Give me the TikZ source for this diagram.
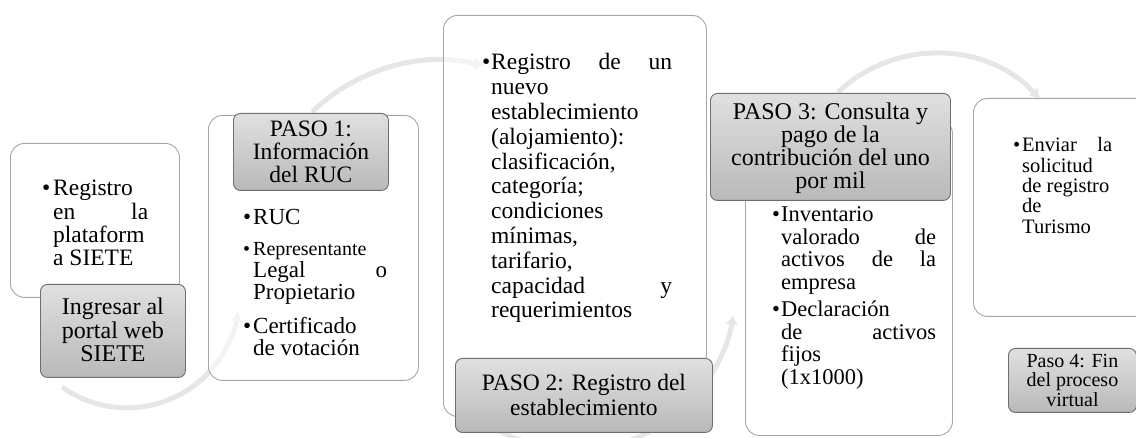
\documentclass[tikz,border=0pt]{standalone}
\usepackage{fontspec}
\setmainfont{Liberation Serif}
\usetikzlibrary{arrows.meta}
\definecolor{arcgray}{HTML}{E6E6E6}
\definecolor{bodyline}{HTML}{A6A6A6}
\definecolor{headline}{HTML}{6E6E6E}
\definecolor{headtop}{HTML}{E0E0E0}
\definecolor{headbot}{HTML}{B9B9B9}
\newcommand{\fsz}[2]{\fontsize{#1}{#2}\selectfont}
\newcommand{\bul}[1]{\makebox[#1][l]{\textbullet}}
\begin{document}
\begin{tikzpicture}[x=1pt,y=-1pt,
  flowarc/.style={draw=arcgray, line width=5pt, -{Latex[length=10pt,width=13pt]}},
  bodybox/.style={draw=bodyline, line width=0.9pt, rounded corners=14pt, fill=white, fill opacity=0.55, anchor=north west, inner sep=0pt},
  headbox/.style={draw=headline, line width=0.9pt, rounded corners=7pt, top color=headtop, bottom color=headbot, anchor=north west, inner sep=0pt},
  headtext/.style={align=center, inner sep=0pt, text=black},
  item/.style={anchor=base west, inner sep=0pt}
]
\useasboundingbox (0,0) rectangle (1136,438);
\clip (0,0) rectangle (1136,438);
% arcs
\coordinate (aA) at (62,387);
\coordinate (aB) at (312,112);
\coordinate (aC) at (462,403);
\coordinate (aD) at (838,92);
\draw[flowarc] (aA) arc[start angle=125.5, end angle=8, radius=112];
\draw[flowarc] (aB) arc[start angle=-134, end angle=-76, radius=184];
\draw[flowarc] (aC) arc[start angle=135, end angle=9, radius=160];
\draw[flowarc] (aD) arc[start angle=-133, end angle=-43, radius=143];
% bodies
\node[bodybox, minimum width=169pt, minimum height=154pt] (b0) at (10,143) {};
\node[bodybox, minimum width=210pt, minimum height=265pt] (b1) at (208,115) {};
\node[bodybox, minimum width=263pt, minimum height=401pt] (b2) at (443,15) {};
\node[bodybox, minimum width=207pt, minimum height=316pt] (b3) at (745,119) {};
\node[bodybox, minimum width=180pt, minimum height=218pt] (b4) at (973,98) {};
% headers
\node[headbox, minimum width=145pt, minimum height=93pt] (h0) at (40,284) {};
\node[headbox, minimum width=155pt, minimum height=77pt] (h1) at (233,113) {};
\node[headbox, minimum width=257pt, minimum height=74pt] (h2) at (455,358) {};
\node[headbox, minimum width=240pt, minimum height=107pt] (h3) at (710,93) {};
\node[headbox, minimum width=128pt, minimum height=64pt] (h4) at (1008,348) {};
% header texts
\node[headtext, font=\fsz{24}{23.5}] (h0t) at ([yshift=1pt]h0.center) {Ingresar al\\portal web\\SIETE};
\node[headtext, font=\fsz{23.5}{22.8}] (h1t) at (h1.center) {PASO 1:\\Información\\del RUC};
\node[headtext, font=\fsz{23.5}{25}] (h2t) at (h2.center) {PASO 2: Registro del\\establecimiento};
\node[headtext, font=\fsz{24}{23}] (h3t) at ([yshift=-1pt]h3.center) {PASO 3: Consulta y\\pago de la\\contribución del uno\\por mil};
\node[headtext, font=\fsz{20}{19.5}] (h4t) at (h4.center) {Paso 4: Fin\\del proceso\\virtual};
% body texts
\node[item] (t0) at (42,196) {\fsz{23.5}{23.3}\bul{11pt}\parbox[t]{95pt}{Registro\\en\hfill la\\plataform\\a SIETE}};
\node[item] (t1a) at (243,225) {\fsz{23}{22}\bul{10pt}\parbox[t]{134pt}{RUC}};
\node[item] (t1b) at (243,256) {\fsz{20}{22}\bul{10pt}\parbox[t]{134pt}{Representante\\\fsz{23}{22}Legal\hfill o\\Propietario}};
\node[item] (t1c) at (243,334) {\fsz{23}{22}\bul{10pt}\parbox[t]{134pt}{Certificado\\de votación}};
\node[item] (t2) at (482,70) {\fsz{23.5}{24.8}\bul{9pt}\parbox[t]{181pt}{Registro\hfill de\hfill un\\nuevo\\establecimiento\\(alojamiento):\\clasificación,\\categoría;\\condiciones\\mínimas,\\tarifario,\\capacidad\hfill y\\requerimientos}};
\node[item] (t3a) at (772,222) {\fsz{22.5}{22.5}\bul{9pt}\parbox[t]{155pt}{Inventario\\valorado\hfill de\\activos\hfill de\hfill la\\empresa}};
\node[item] (t3b) at (772,317) {\fsz{22.5}{22.5}\bul{9pt}\parbox[t]{155pt}{Declaración\\de\hfill activos\\fijos\\(1x1000)}};
\node[item] (t4) at (1013,152) {\fsz{20.5}{20.3}\bul{9pt}\parbox[t]{90pt}{Enviar\hfill la\\solicitud\\de registro\\de\\Turismo}};
\end{tikzpicture}
\end{document}
